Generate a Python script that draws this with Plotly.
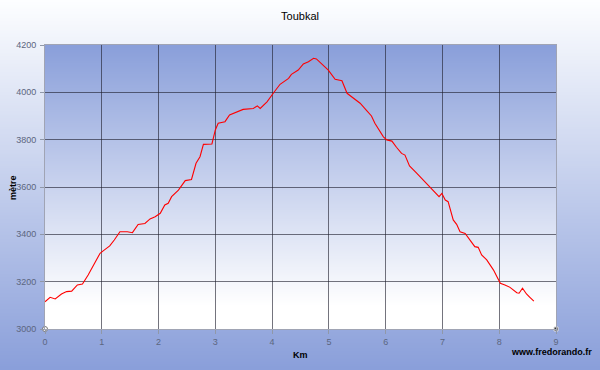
import base64, struct, zlib
import plotly.graph_objects as go

# ---- data ----
km = [0.00, 0.09, 0.18, 0.29, 0.38, 0.47, 0.57, 0.66, 0.76, 0.88, 0.97, 1.03,
      1.14, 1.22, 1.32, 1.45, 1.54, 1.64, 1.76, 1.85, 1.94, 2.03, 2.11, 2.17,
      2.23, 2.35, 2.47, 2.58, 2.66, 2.73, 2.79, 2.94, 3.00, 3.05, 3.17, 3.25,
      3.32, 3.49, 3.67, 3.74, 3.79, 3.91, 4.02, 4.14, 4.29, 4.34, 4.46, 4.55,
      4.64, 4.73, 4.78, 4.90, 4.99, 5.11, 5.23, 5.32, 5.43, 5.55, 5.67, 5.75,
      5.81, 5.90, 5.96, 6.02, 6.11, 6.19, 6.28, 6.34, 6.42, 6.55, 6.66, 6.78,
      6.87, 6.94, 6.99, 7.05, 7.10, 7.19, 7.25, 7.31, 7.40, 7.48, 7.57, 7.63,
      7.69, 7.78, 7.90, 7.96, 8.02, 8.10, 8.19, 8.31, 8.35, 8.41, 8.48, 8.54,
      8.61]
altitude = [3115, 3134, 3127, 3148, 3158, 3160, 3186, 3190, 3228, 3277, 3320, 3331,
            3351, 3376, 3411, 3411, 3407, 3442, 3446, 3465, 3474, 3489, 3524, 3531,
            3559, 3587, 3627, 3632, 3700, 3728, 3780, 3782, 3841, 3869, 3876, 3904,
            3911, 3928, 3932, 3943, 3932, 3960, 3996, 4034, 4059, 4076, 4094, 4120,
            4129, 4144, 4141, 4115, 4094, 4055, 4049, 3996, 3975, 3954, 3922, 3900,
            3869, 3838, 3812, 3799, 3794, 3768, 3742, 3735, 3689, 3658, 3630, 3601,
            3580, 3559, 3573, 3545, 3538, 3461, 3442, 3411, 3404, 3376, 3348, 3345,
            3313, 3292, 3249, 3221, 3193, 3186, 3176, 3153, 3151, 3172, 3148, 3134,
            3118]
x_ticks = [0, 1, 2, 3, 4, 5, 6, 7, 8, 9]
y_ticks = [3000, 3200, 3400, 3600, 3800, 4000, 4200]
title_text = "Toubkal"
x_title = "Km"
y_title = "mètre"
credit = "www.fredorando.fr"


def gradient_png(top, bottom, n=256, white_frac=1.0):
    rows = b""
    for i in range(n):
        t = min(1.0, i / ((n - 1) * white_frac))
        c = bytes(int(round(top[k] + (bottom[k] - top[k]) * t)) for k in range(3))
        rows += b"\x00" + c
    def chunk(tag, data):
        return struct.pack(">I", len(data)) + tag + data + struct.pack(">I", zlib.crc32(tag + data) & 0xffffffff)
    png = b"\x89PNG\r\n\x1a\n"
    png += chunk(b"IHDR", struct.pack(">IIBBBBB", 1, n, 8, 2, 0, 0, 0))
    png += chunk(b"IDAT", zlib.compress(rows))
    png += chunk(b"IEND", b"")
    return "data:image/png;base64," + base64.b64encode(png).decode()


BLUE = (138, 159, 218)
WHITE = (255, 255, 255)

W, H = 600, 370
L, R, T, B = 45, 44, 45, 41
pw, ph = W - L - R, H - T - B

def px(x):
    return (x - L) / pw

def py(y):
    return (H - B - y) / ph

fig = go.Figure()
fig.add_trace(go.Scatter(x=km, y=altitude, mode="lines",
                         line=dict(color="#ff0000", width=1.1),
                         hoverinfo="skip", showlegend=False))
fig.add_trace(go.Scatter(x=[x_ticks[0]], y=[y_ticks[0]], mode="markers",
                         marker=dict(symbol="circle", size=5, color="white",
                                     line=dict(color="#777", width=1)),
                         cliponaxis=False, showlegend=False, hoverinfo="skip"))
fig.add_trace(go.Scatter(x=[x_ticks[-1]], y=[y_ticks[0]], mode="markers",
                         marker=dict(symbol="square", size=4, color="#333",
                                     line=dict(color="#ddd", width=1)),
                         cliponaxis=False, showlegend=False, hoverinfo="skip"))

images = [
    dict(source=gradient_png((253, 254, 255), BLUE, white_frac=1.0),
         xref="paper", yref="paper", x=px(0), y=py(0),
         sizex=W / pw, sizey=H / ph, sizing="stretch",
         xanchor="left", yanchor="top", layer="below"),
    dict(source=gradient_png(BLUE, WHITE, white_frac=0.92),
         xref="paper", yref="paper", x=0, y=1, sizex=1, sizey=1,
         sizing="stretch", xanchor="left", yanchor="top", layer="below"),
]

tickfont = dict(family="Liberation Sans, Arial, sans-serif", size=9, color="#5c6680")
grid = "rgba(30,30,45,0.62)"

fig.update_layout(
    width=W, height=H,
    margin=dict(l=L, r=R, t=T, b=B),
    paper_bgcolor="rgba(0,0,0,0)",
    plot_bgcolor="rgba(0,0,0,0)",
    images=images,
    title=dict(text=title_text, x=0.5, xanchor="center", y=1 - 16 / H, yanchor="middle",
               font=dict(family="Liberation Sans, Arial, sans-serif", size=11, color="#000")),
    xaxis=dict(range=[0, 9], tickvals=x_ticks, showgrid=True, gridcolor=grid, gridwidth=1,
               zeroline=False, showline=True, linecolor="#a0a4b4", mirror=True,
               ticks="outside", ticklen=4, tickcolor="#9098a8", tickfont=tickfont,
               fixedrange=True),
    yaxis=dict(range=[3000, 4200], tickvals=y_ticks, showgrid=True, gridcolor=grid, gridwidth=1,
               zeroline=False, showline=True, linecolor="#a0a4b4", mirror=True,
               ticks="outside", ticklen=4, tickcolor="#9098a8", tickfont=tickfont,
               ticklabelstandoff=2, fixedrange=True),
    annotations=[
        dict(text="<b>" + y_title + "</b>", xref="paper", yref="paper", x=px(13), y=py(188),
             textangle=-90, showarrow=False, xanchor="center", yanchor="middle",
             font=dict(family="Liberation Sans, Arial, sans-serif", size=9, color="#000")),
        dict(text="<b>" + x_title + "</b>", xref="paper", yref="paper", x=px(300), y=py(355),
             showarrow=False, xanchor="center", yanchor="middle",
             font=dict(family="Liberation Sans, Arial, sans-serif", size=9, color="#000")),
        dict(text="<b>" + credit + "</b>", xref="paper", yref="paper", x=px(594), y=py(352),
             showarrow=False, xanchor="right", yanchor="middle",
             font=dict(family="Liberation Sans, Arial, sans-serif", size=9, color="#000")),
    ],
)

fig.write_html("out.html", config={"displayModeBar": False},
               post_script="document.body.style.margin='0';document.body.style.overflow='hidden';")
